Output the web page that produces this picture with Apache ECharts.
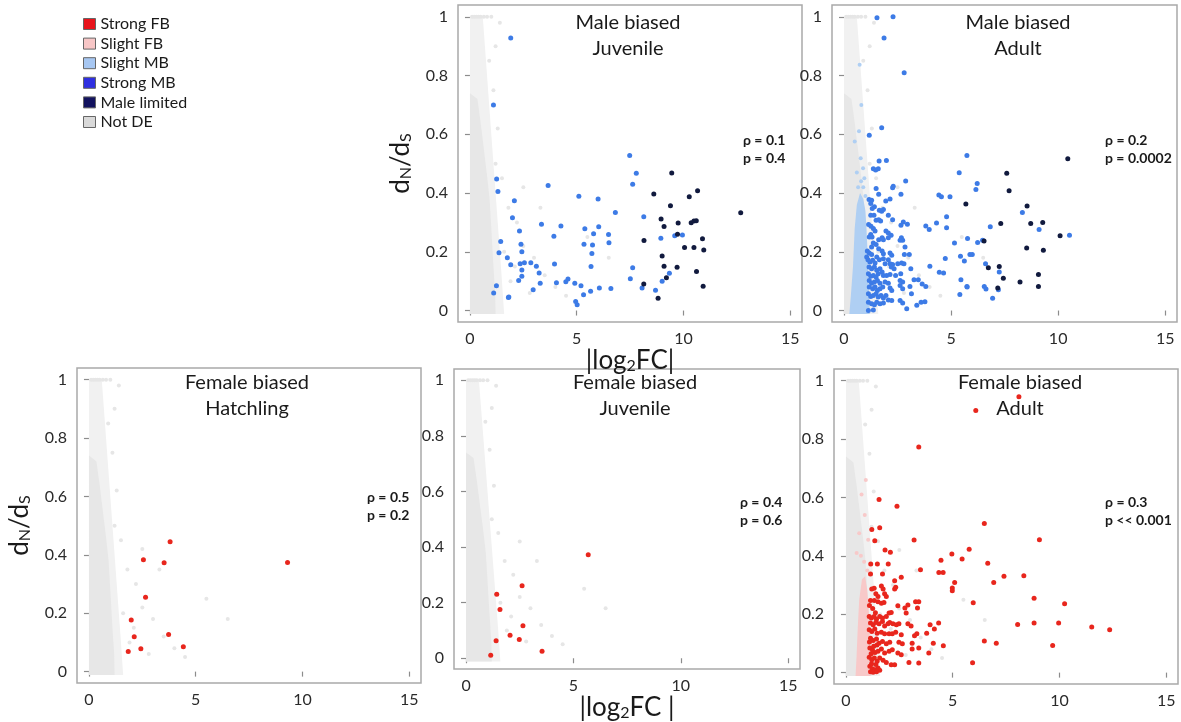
<!DOCTYPE html>
<html><head><meta charset="utf-8">
<script src="https://cdn.jsdelivr.net/npm/echarts@6/dist/echarts.min.js"></script>
<style>html,body{margin:0;padding:0;background:#fff}#c{width:1181px;height:722px}</style>
</head><body><div id="c"></div>
<script>
// ---------------- DATA ----------------
const xTicks = [0, 5, 10, 15];
const yTicks = [0, 0.2, 0.4, 0.6, 0.8, 1];
const legendNames = ['Strong FB', 'Slight FB', 'Slight MB', 'Strong MB', 'Male limited', 'Not DE'];
const panelTitles = ['Male biased\nJuvenile', 'Male biased\nAdult', 'Female biased\nHatchling', 'Female biased\nJuvenile', 'Female biased\nAdult'];
const rhoLabels = ['ρ = 0.1', 'ρ = 0.2', 'ρ = 0.5', 'ρ = 0.4', 'ρ = 0.3'];
const pLabels = ['p = 0.4', 'p = 0.0002', 'p = 0.2', 'p = 0.6', 'p << 0.001'];

// Not DE cloud (outline of dense core and lighter halo), shared by panels
const notDECore = [[0,-0.012],[1.2,-0.012],[1.18,0.06],[1.1,0.15],[1.0,0.28],[0.92,0.38],[0.8,0.46],[0.65,0.55],[0.5,0.64],[0.35,0.72],[0,0.74]];
const notDEHalo = [[0,-0.012],[1.6,-0.012],[1.5,0.1],[1.35,0.25],[1.2,0.4],[1.05,0.55],[0.9,0.7],[0.75,0.85],[0.6,1.0],[0,1.0]];
const notDESparse = [[0.1,1],[0.2,1],[0.3,1],[0.4,1],[0.5,1],[0.65,1],[0.8,1],[1.0,1],[1.4,0.98],[1.2,0.9],[0.9,0.85],[1.1,0.75],[1.3,0.62],[1.2,0.5],[1.5,0.45],[1.8,0.35],[2.2,0.3],[2.5,0.42],[3.3,0.35],[2.5,0.22],[1.6,0.2],[2.1,0.15],[3.0,0.18],[3.5,0.12],[1.9,0.1],[4.0,0.08],[2.8,0.06],[4.5,0.05],[5.5,0.25],[6.5,0.18]];

// Male biased, Juvenile
const mjStrongMB = [[1.91,0.928],[1.10,0.70],[1.25,0.448],[1.31,0.405],[2.08,0.374],[1.99,0.316],[2.32,0.271],[1.44,0.235],[1.36,0.197],[1.75,0.18],[1.91,0.156],[2.35,0.159],[2.39,0.226],[2.43,0.2],[2.55,0.163],[2.85,0.163],[2.43,0.138],[2.43,0.117],[2.28,0.102],[1.24,0.084],[1.11,0.06],[1.8,0.044],[1.82,0.046],[3.11,0.151],[3.24,0.128],[3.29,0.093],[2.96,0.071],[3.35,0.294],[3.66,0.426],[3.93,0.253],[3.96,0.158],[4.05,0.095],[4.26,0.288],[4.49,0.098],[4.59,0.107],[4.91,0.093],[4.95,0.031],[5.02,0.02],[5.10,0.389],[5.20,0.084],[5.32,0.054],[5.34,0.226],[5.38,0.278],[5.65,0.066],[5.67,0.15],[5.71,0.194],[5.74,0.223],[5.79,0.261],[6.0,0.38],[6.03,0.285],[6.06,0.077],[6.49,0.259],[6.51,0.231],[6.6,0.075],[6.81,0.334],[7.48,0.528],[7.62,0.43],[7.79,0.467],[7.62,0.146],[7.51,0.108],[8.14,0.319],[8.06,0.077],[8.94,0.246],[9.0,0.1],[9.34,0.127],[9.59,0.255],[9.95,0.257],[8.69,0.069]];
const mjMaleLimited = [[8.61,0.397],[8.81,0.042],[8.95,0.312],[9.09,0.286],[9.0,0.186],[9.09,0.151],[9.2,0.112],[9.39,0.357],[9.45,0.468],[9.75,0.298],[9.72,0.26],[9.7,0.147],[10.05,0.215],[10.27,0.387],[10.36,0.299],[10.49,0.305],[10.6,0.306],[10.49,0.215],[10.66,0.408],[10.61,0.133],[10.89,0.244],[10.95,0.206],[10.92,0.083],[12.68,0.333],[8.15,0.238],[8.14,0.09]];

// Male biased, Adult
const maSlightMBCore = [[0.25,-0.012],[1.2,-0.012],[1.15,0.1],[1.1,0.2],[1.05,0.28],[1.0,0.34],[0.9,0.38],[0.75,0.4],[0.6,0.36],[0.5,0.28],[0.42,0.15],[0.32,0.05]];
const maSlightMB = [[0.73,0.837],[0.81,0.70],[0.5,0.575],[0.7,0.61],[0.78,0.518],[0.89,0.484],[0.95,0.45],[0.66,0.42],[0.9,0.42],[1.0,0.39],[0.6,0.47],[0.8,0.44]];
const maStrongMB = [[1.54,0.997],[2.29,1.0],[1.87,0.928],[2.81,0.809],[3.82,0.288],[3.98,0.276],[4.32,0.298],[4.43,0.393],[4.55,0.387],[4.79,0.319],[4.79,0.282],[4.95,0.387],[5.38,0.469],[5.74,0.528],[5.77,0.245],[6.16,0.412],[6.22,0.432],[6.47,0.239],[6.24,0.232],[5.16,0.23],[5.44,0.185],[5.88,0.191],[5.99,0.191],[5.62,0.169],[4.73,0.177],[4.01,0.151],[4.45,0.13],[4.65,0.128],[3.65,0.09],[3.82,0.082],[3.15,0.057],[3.6,0.028],[3.78,0.03],[3.4,0.018],[5.46,0.105],[5.74,0.082],[5.41,0.055],[6.55,0.082],[6.63,0.073],[6.94,0.042],[7.21,0.071],[7.25,0.131],[6.83,0.285],[8.33,0.334],[9.11,0.276],[10.53,0.256],[6.61,0.159],[5.75,0.08],
[1.76,0.622],[1.18,0.597],[1.64,0.509],[1.98,0.511],[1.37,0.483],[1.48,0.478],[1.6,0.483],[2.88,0.441],[2.3,0.423],[2.27,0.418],[1.5,0.415],[1.62,0.396],[2.66,0.396],[2.15,0.38],[1.95,0.373],[1.17,0.378],[1.29,0.375],[1.25,0.364],[1.42,0.353],[1.32,0.347],[1.65,0.341],[1.76,0.338],[1.84,0.344],[1.4,0.324],[1.25,0.324],[2.07,0.324],[2.27,0.309],[1.5,0.307],[1.62,0.309],[1.71,0.305],[1.15,0.293],[1.26,0.287],[2.77,0.301],[2.96,0.294],[2.66,0.29],[1.37,0.279],[1.45,0.271],[1.96,0.271],[2.07,0.264],[1.25,0.259],[1.31,0.25],[1.18,0.25],[1.78,0.248],[1.62,0.241],[1.84,0.241],[2.2,0.256],[2.07,0.248],[2.68,0.248],[2.74,0.239],[2.62,0.239],[1.37,0.23],[1.5,0.225],[1.29,0.216],[1.09,0.203],[1.18,0.196],[1.29,0.191],[1.06,0.182],[1.62,0.21],[1.78,0.203],[1.84,0.193],[2.15,0.196],[2.23,0.188],[2.85,0.216],[2.82,0.191],[3.05,0.191],[1.12,0.173],[1.21,0.165],[1.34,0.171],[1.45,0.162],[1.53,0.182],[1.65,0.173],[1.92,0.159],[2.15,0.159],[2.27,0.157],[2.51,0.159],[2.69,0.162],[2.8,0.159],[1.84,0.176],[2.07,0.173],[1.17,0.148],[1.29,0.142],[1.42,0.148],[1.53,0.137],[1.68,0.142],[1.78,0.131],[2.21,0.148],[2.34,0.142],[3.12,0.142],[1.14,0.125],[1.25,0.117],[1.37,0.119],[1.5,0.114],[1.6,0.125],[1.84,0.119],[1.99,0.119],[2.15,0.123],[2.41,0.119],[2.65,0.125],[1.18,0.102],[1.29,0.093],[1.42,0.097],[1.56,0.102],[1.68,0.093],[1.92,0.097],[2.07,0.093],[2.62,0.102],[2.74,0.097],[3.27,0.105],[3.47,0.105],[1.18,0.08],[1.34,0.074],[1.45,0.08],[1.56,0.068],[1.68,0.074],[1.81,0.08],[2.15,0.077],[2.23,0.068],[2.62,0.085],[2.74,0.074],[3.08,0.082],[1.14,0.057],[1.25,0.048],[1.37,0.051],[1.5,0.057],[1.6,0.046],[1.73,0.051],[1.84,0.043],[1.96,0.051],[2.07,0.036],[2.23,0.034],[2.62,0.034],[2.74,0.026],[1.14,0.028],[1.29,0.023],[1.42,0.02],[1.53,0.028],[1.68,0.023],[1.84,0.026],[1.14,0.0],[1.37,0.002],[2.93,0.006]];
const maMaleLimited = [[10.45,0.517],[7.6,0.467],[7.71,0.408],[5.69,0.363],[8.55,0.356],[7.32,0.296],[8.72,0.296],[9.28,0.3],[10.09,0.255],[6.54,0.237],[8.53,0.213],[9.31,0.205],[6.74,0.146],[7.25,0.15],[7.44,0.11],[8.22,0.097],[9.08,0.123],[9.08,0.082],[7.18,0.077]];

// Female biased, Hatchling
const fhStrongFB = [[3.8,0.445],[2.55,0.383],[3.52,0.373],[9.3,0.374],[2.65,0.255],[1.98,0.177],[2.12,0.119],[3.73,0.127],[4.42,0.085],[2.43,0.078],[1.84,0.069]];
// Female biased, Juvenile
const fjStrongFB = [[5.69,0.372],[2.61,0.261],[1.43,0.23],[1.58,0.175],[2.65,0.117],[2.05,0.083],[2.48,0.067],[1.4,0.0625],[3.54,0.025],[1.15,0.011]];
// Female biased, Adult
const faSlightFBCore = [[0.45,-0.012],[1.15,-0.012],[1.12,0.1],[1.08,0.2],[1.0,0.28],[0.9,0.33],[0.75,0.32],[0.62,0.25],[0.55,0.15],[0.5,0.06]];
const faSlightFB = [[0.93,0.66],[0.73,0.61],[0.88,0.54],[0.62,0.477],[1.04,0.455],[0.5,0.41],[0.85,0.38],[1.0,0.35],[0.7,0.4]];
const faStrongFB = [[8.1,0.945],[6.08,0.898],[3.41,0.773],[6.48,0.511],[9.06,0.455],[5.77,0.423],[4.96,0.406],[5.44,0.389],[4.45,0.385],[6.64,0.375],[4.35,0.343],[4.55,0.343],[7.4,0.33],[8.33,0.332],[6.92,0.309],[5.09,0.309],[4.98,0.29],[4.98,0.28],[8.81,0.255],[10.24,0.236],[5.96,0.239],[8.04,0.165],[8.81,0.17],[9.96,0.17],[11.51,0.156],[12.35,0.147],[9.68,0.093],[6.48,0.108],[7.04,0.101],[5.93,0.034],
[1.55,0.593],[2.39,0.57],[1.21,0.49],[1.58,0.496],[1.35,0.452],[3.19,0.454],[1.83,0.42],[2.08,0.412],[1.16,0.372],[1.47,0.372],[1.98,0.372],[1.15,0.338],[1.71,0.338],[3.49,0.352],[2.28,0.315],[2.59,0.327],[1.21,0.286],[1.32,0.289],[1.66,0.297],[1.74,0.286],[2.28,0.286],[2.33,0.292],[1.4,0.27],[1.5,0.261],[1.81,0.27],[1.89,0.261],[1.15,0.247],[1.33,0.247],[1.5,0.243],[1.66,0.238],[1.78,0.24],[3.26,0.243],[3.41,0.243],[3.35,0.221],[2.76,0.221],[2.9,0.232],[2.82,0.204],[2.43,0.229],[2.02,0.204],[2.12,0.206],[1.09,0.192],[1.19,0.187],[1.32,0.192],[1.43,0.183],[1.58,0.192],[1.71,0.187],[1.89,0.192],[1.15,0.17],[1.27,0.164],[1.4,0.172],[1.55,0.167],[1.71,0.175],[1.81,0.16],[1.97,0.167],[2.05,0.172],[2.2,0.167],[2.36,0.164],[2.48,0.167],[2.9,0.167],[3.05,0.16],[3.94,0.164],[4.34,0.17],[4.14,0.149],[3.78,0.135],[3.32,0.133],[1.09,0.147],[1.21,0.141],[1.35,0.149],[1.46,0.135],[1.66,0.138],[1.81,0.133],[2.02,0.133],[2.17,0.133],[2.33,0.138],[2.59,0.13],[3.21,0.126],[1.15,0.118],[1.27,0.11],[1.43,0.115],[1.55,0.101],[1.71,0.107],[1.89,0.099],[2.05,0.104],[2.48,0.104],[2.64,0.099],[3.1,0.101],[4.09,0.101],[1.12,0.084],[1.24,0.078],[1.36,0.069],[1.5,0.073],[1.66,0.081],[1.81,0.067],[2.02,0.073],[2.17,0.078],[2.43,0.067],[2.59,0.061],[3.1,0.081],[3.41,0.084],[3.88,0.067],[4.56,0.092],[1.09,0.053],[1.21,0.044],[1.33,0.05],[1.46,0.039],[1.58,0.05],[1.74,0.042],[1.89,0.035],[2.12,0.027],[2.28,0.027],[2.95,0.035],[3.41,0.033],[1.12,0.022],[1.24,0.013],[1.36,0.01],[1.5,0.016],[1.58,0.008],[1.15,0.003],[1.27,0.001],[1.43,0.003],[1.1,0.23],[1.25,0.22],[1.38,0.205],[1.1,0.105],[1.3,0.09],[1.45,0.095],[1.18,0.065],[1.4,0.028],[1.2,0.03]];

// ---------------- STYLE / LAYOUT ----------------
const FONT = 'Lato, "Open Sans", sans-serif';
const C = {
  strongFB: '#e8261d', slightFB: '#f8c9c9', slightMB: '#afcff3', strongMB: '#3d7be6',
  maleLim: '#111a3e', notCore: '#e7e7e7', notHalo: '#f1f1f1', notPt: '#e6e6e6'
};
const legendColors = ['#e8141c', '#f7c6c6', '#a7c7f2', '#2f2fe0', '#12125e', '#d9d9d9'];
const X_MIN = -0.56, X_MAX = 15.55, Y_MIN = -0.039, Y_MAX = 1.04;

const panels = [
  {rect: {left: 458, top: 5, width: 344, height: 317}, tx: 628, ty: 10, sx: 743, sy: 131, yName: true, xName: '{a||log}{s|2}{a|FC|}', xGap: 14},
  {rect: {left: 832, top: 5, width: 345, height: 317}, tx: 1018, ty: 10, sx: 1105, sy: 131},
  {rect: {left: 77, top: 368, width: 344, height: 315}, tx: 247, ty: 370, sx: 367, sy: 488, yName: true},
  {rect: {left: 454, top: 369, width: 346, height: 316}, tx: 635, ty: 370, sx: 740, sy: 493, xName: '{a||log}{s|2}{a|FC |}', xGap: 20},
  {rect: {left: 834, top: 369, width: 344, height: 315}, tx: 1020, ty: 370, sx: 1105, sy: 493}
];

function polygon(name, outline, color, gi) {
  return {
    type: 'custom', name: name, xAxisIndex: gi, yAxisIndex: gi, silent: true, z: 1,
    clip: true, data: outline, itemStyle: {color: color},
    renderItem: function (params, api) {
      if (params.dataIndex !== 0) return null;
      const pts = outline.map(function (p) { return api.coord(p); });
      return {type: 'polygon', shape: {points: pts}, style: {fill: color}};
    }
  };
}
function scatter(name, data, color, size, gi, z) {
  return {
    type: 'scatter', name: name, xAxisIndex: gi, yAxisIndex: gi, data: data,
    symbolSize: size, itemStyle: {color: color, opacity: 1}, z: z, silent: true,
    emphasis: {disabled: true}
  };
}

const series = [];
panels.forEach(function (p, gi) {
  series.push(polygon('Not DE', notDEHalo, C.notHalo, gi));
  series.push(polygon('Not DE', notDECore, C.notCore, gi));
  series.push(scatter('Not DE', notDESparse, C.notPt, 4, gi, 2));
});
series.push(polygon('Slight MB', maSlightMBCore, C.slightMB, 1));
series.push(scatter('Slight MB', maSlightMB, C.slightMB, 4, 1, 3));
series.push(polygon('Slight FB', faSlightFBCore, C.slightFB, 4));
series.push(scatter('Slight FB', faSlightFB, C.slightFB, 4, 4, 3));
series.push(scatter('Strong MB', mjStrongMB, C.strongMB, 5, 0, 5));
series.push(scatter('Male limited', mjMaleLimited, C.maleLim, 5, 0, 6));
series.push(scatter('Strong MB', maStrongMB, C.strongMB, 5, 1, 5));
series.push(scatter('Male limited', maMaleLimited, C.maleLim, 5, 1, 6));
series.push(scatter('Strong FB', fhStrongFB, C.strongFB, 5, 2, 5));
series.push(scatter('Strong FB', fjStrongFB, C.strongFB, 5, 3, 5));
series.push(scatter('Strong FB', faStrongFB, C.strongFB, 5, 4, 5));

const richName = {
  a: {fontSize: 26, fontFamily: FONT, color: '#1a1a1a', verticalAlign: 'bottom', lineHeight: 30},
  s: {fontSize: 16, fontFamily: FONT, color: '#1a1a1a', verticalAlign: 'bottom', lineHeight: 12}
};

const graphic = [];
panels.forEach(function (p, i) {
  graphic.push({type: 'text', x: p.tx, y: p.ty, silent: true, z: 100,
    style: {text: panelTitles[i], fill: '#1a1a1a', font: '20px ' + FONT, align: 'center', verticalAlign: 'top', lineHeight: 26}});
  graphic.push({type: 'text', x: p.sx, y: p.sy, silent: true, z: 100,
    style: {text: rhoLabels[i] + '\n' + pLabels[i], fill: '#1a1a1a', font: 'bold 14px ' + FONT, align: 'left', verticalAlign: 'top', lineHeight: 18}});
});

const option = {
  backgroundColor: '#ffffff',
  animation: false,
  legend: {
    orient: 'vertical', left: 78, top: 11, icon: 'rect', itemWidth: 12, itemHeight: 11, itemGap: 3.6,
    selectedMode: false,
    textStyle: {fontSize: 16, fontFamily: FONT, color: '#1a1a1a'},
    data: legendNames.map(function (n, i) {
      return {name: n, itemStyle: {color: legendColors[i], borderColor: '#666', borderWidth: 1}};
    })
  },
  grid: panels.map(function (p) {
    return Object.assign({show: true, borderColor: '#a9a9a9', borderWidth: 1.5, backgroundColor: 'transparent'}, p.rect);
  }),
  xAxis: panels.map(function (p, i) {
    return {
      type: 'value', gridIndex: i, min: X_MIN, max: X_MAX,
      splitLine: {show: false}, axisLine: {show: false},
      axisTick: {show: true, customValues: xTicks, length: 5, lineStyle: {color: '#8c8c8c', width: 1.2}},
      axisLabel: {customValues: xTicks, fontSize: 16, color: '#2a2a2a', margin: 9, fontFamily: FONT},
      name: p.xName || '', nameLocation: 'middle', nameGap: p.xGap || 18,
      nameTextStyle: {rich: richName}
    };
  }),
  yAxis: panels.map(function (p, i) {
    return {
      type: 'value', gridIndex: i, min: Y_MIN, max: Y_MAX,
      splitLine: {show: false}, axisLine: {show: false},
      axisTick: {show: true, customValues: yTicks, length: 5, lineStyle: {color: '#8c8c8c', width: 1.2}},
      axisLabel: {customValues: yTicks, fontSize: 16, color: '#2a2a2a', margin: 10, fontFamily: FONT},
      name: p.yName ? '{a|d}{s|N}{a|/d}{s|S}' : '', nameLocation: 'middle', nameGap: 44, nameRotate: 90,
      nameTextStyle: {rich: richName}
    };
  }),
  graphic: graphic,
  series: series
};

const chart = echarts.init(document.getElementById('c'), null, {renderer: 'canvas'});
chart.setOption(option);
</script>
</body></html>
